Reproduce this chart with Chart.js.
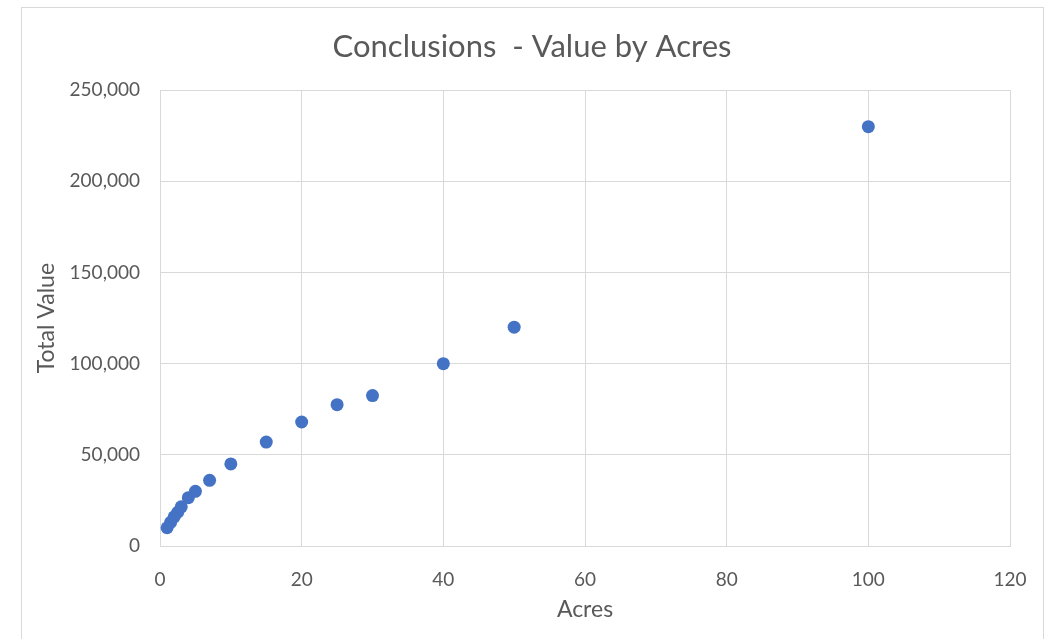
<!DOCTYPE html>
<html>
<head>
<meta charset="utf-8">
<script src="https://cdn.jsdelivr.net/npm/chart.js@4"></script>
<style>
  html, body { margin: 0; padding: 0; background: #ffffff; }
  #wrap { position: relative; width: 1053px; height: 639px; }
  #frame { position: absolute; left: 21px; top: 7px; width: 1021px; height: 700px; border: 1px solid #d9d9d9; pointer-events: none; }
  canvas { position: absolute; left: 0; top: 0; }
</style>
</head>
<body>
<div id="wrap">
  <canvas id="c" width="1053" height="639"></canvas>
  <div id="frame"></div>
</div>
<script>
const chartTitle = "Conclusions  - Value by Acres";
const xAxisTitle = "Acres";
const yAxisTitle = "Total Value";
const acres = [1, 1.5, 2, 2.5, 3, 4, 5, 7, 10, 15, 20, 25, 30, 40, 50, 100];
const totalValue = [10000, 13000, 16000, 18500, 21500, 26500, 30000, 36000, 45000, 57000, 68000, 77500, 82500, 100000, 120000, 230000];
const xTicks = [0, 20, 40, 60, 80, 100, 120];
const yTicks = [0, 50000, 100000, 150000, 200000, 250000];

const points = acres.map((a, i) => ({ x: a, y: totalValue[i] }));
const textColor = '#595959';
const gridColor = '#d9d9d9';
const fontFamily = 'Lato, "Open Sans", sans-serif';

new Chart(document.getElementById('c'), {
  type: 'scatter',
  data: {
    datasets: [{
      label: yAxisTitle,
      data: points,
      backgroundColor: '#4472C4',
      borderColor: '#4472C4',
      pointRadius: 6.5,
      pointHoverRadius: 6.5,
      borderWidth: 0
    }]
  },
  options: {
    responsive: false,
    animation: false,
    devicePixelRatio: 1,
    layout: { padding: { left: 54, right: 43, top: 0, bottom: 0 } },
    plugins: {
      legend: { display: false },
      tooltip: { enabled: false },
      title: {
        display: true,
        text: chartTitle,
        color: textColor,
        font: { family: fontFamily, size: 31, weight: 'normal' },
        padding: { top: 28, bottom: 25 }
      }
    },
    scales: {
      x: {
        type: 'linear',
        min: 0, max: 120,
        afterBuildTicks: (s) => { s.ticks = xTicks.map(v => ({ value: v })); },
        afterFit: (s) => { s.height = 93; },
        grid: { color: gridColor, lineWidth: 1, drawTicks: false },
        border: { display: true, color: gridColor },
        ticks: { color: textColor, font: { family: fontFamily, size: 19 }, padding: 22, maxRotation: 0 },
        title: { display: true, text: xAxisTitle, color: textColor, font: { family: fontFamily, size: 23 }, padding: { top: 0, bottom: 16 } }
      },
      y: {
        type: 'linear',
        min: 0, max: 250000,
        afterBuildTicks: (s) => { s.ticks = yTicks.map(v => ({ value: v })); },
        afterFit: (s) => { s.width = 106; },
        grid: { color: gridColor, lineWidth: 1, drawTicks: false },
        border: { display: false },
        ticks: {
          color: textColor,
          font: { family: fontFamily, size: 19 },
          padding: 20,
          callback: (v) => v.toLocaleString('en-US')
        },
        title: { display: true, text: yAxisTitle, color: textColor, font: { family: fontFamily, size: 23 }, padding: { top: -21, bottom: 0 } }
      }
    }
  }
});
</script>
</body>
</html>
